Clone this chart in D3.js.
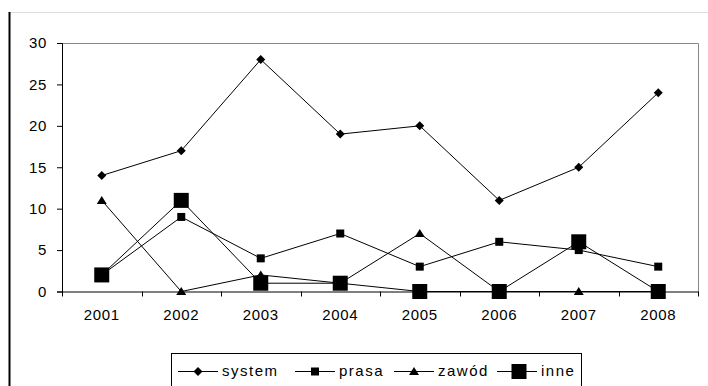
<!DOCTYPE html>
<html>
<head>
<meta charset="utf-8">
<script src="https://cdn.jsdelivr.net/npm/d3@7"></script>
<style>
  body { margin: 0; background: #fff; }
  text { font-family: "Liberation Sans", Arial, sans-serif; fill: #000; }
</style>
</head>
<body>
<div class="canvas"></div>
<script>
const years = ["2001", "2002", "2003", "2004", "2005", "2006", "2007", "2008"]
const system = [14, 17, 28, 19, 20, 11, 15, 24]
const prasa = [2, 9, 4, 7, 3, 6, 5, 3]
const zawod = [11, 0, 2, 1, 7, 0, 0, 0]
const inne = [2, 11, 1, 1, 0, 0, 6, 0]
const yTicks = [0, 5, 10, 15, 20, 25, 30]

const series = [
    { name: "system", values: system, shape: "diamond", size: 9 },
    { name: "prasa", values: prasa, shape: "square", size: 8 },
    { name: "zawód", values: zawod, shape: "triangle", size: 9 },
    { name: "inne", values: inne, shape: "square", size: 15 }
]

const svg = d3.select(".canvas")
    .append("svg")
    .attr("width", 708)
    .attr("height", 386)

// outer frame bits
svg.append("line")
    .attr("x1", 9).attr("x2", 708).attr("y1", 12.5).attr("y2", 12.5)
    .attr("stroke", "#ddd")
svg.append("line")
    .attr("x1", 9.5).attr("x2", 9.5).attr("y1", 12).attr("y2", 386)
    .attr("stroke", "#000").attr("stroke-width", 2)

const margin = { top: 43, left: 62, right: 698, bottom: 291.5 }

const x = d3.scaleBand()
    .domain(years)
    .range([margin.left, margin.right])

const y = d3.scaleLinear()
    .domain([0, 30])
    .range([margin.bottom, margin.top])

// plot border (top + right, gray)
svg.append("path")
    .attr("d", `M${margin.left},${margin.top + 0.5}H${margin.right + 0.5}V${margin.bottom}`)
    .attr("fill", "none")
    .attr("stroke", "#888")

const xAxisGroup = svg.append("g")
    .attr("transform", `translate(0, ${margin.bottom})`)
const yAxisGroup = svg.append("g")
    .attr("transform", `translate(${margin.left}, 0)`)

yAxisGroup.call(d3.axisLeft(y).tickValues(yTicks).tickSize(5).tickPadding(10))
xAxisGroup.call(d3.axisBottom(x).tickSize(0).tickPadding(18))

// band boundary ticks on x axis
svg.selectAll(".xtick")
    .data(years.concat(["end"]))
    .enter()
    .append("line")
    .attr("x1", (d, i) => Math.round(margin.left + i * x.step()) + 0.5)
    .attr("x2", (d, i) => Math.round(margin.left + i * x.step()) + 0.5)
    .attr("y1", margin.bottom)
    .attr("y2", margin.bottom + 5)
    .attr("stroke", "#000")

svg.selectAll(".domain").attr("stroke", "#000")
svg.selectAll(".tick line").attr("stroke", "#000")
svg.selectAll(".tick text")
    .style("font-size", "15px")
    .style("letter-spacing", "0.6px")
    .attr("fill", "#000")

const cx = d => x(d) + x.bandwidth() / 2

function marker(sel, shape, size) {
    if (shape === "square") {
        sel.append("rect")
            .attr("x", -size / 2).attr("y", -size / 2)
            .attr("width", size).attr("height", size)
            .attr("fill", "#000")
    } else if (shape === "diamond") {
        const h = size / 2
        sel.append("path")
            .attr("d", `M0,${-h}L${h},0L0,${h}L${-h},0Z`)
            .attr("fill", "#000")
    } else {
        const h = size / 2
        sel.append("path")
            .attr("d", `M0,${-h}L${h + 0.5},${h - 1}L${-h - 0.5},${h - 1}Z`)
            .attr("fill", "#000")
    }
}

const line = d3.line()
    .x((d, i) => cx(years[i]))
    .y(d => y(d))

series.forEach(s => {
    svg.append("path")
        .datum(s.values)
        .attr("d", line)
        .attr("fill", "none")
        .attr("stroke", "#000")
        .attr("stroke-width", 1)
})

series.forEach(s => {
    s.values.forEach((v, i) => {
        const g = svg.append("g")
            .attr("transform", `translate(${cx(years[i])}, ${y(v)})`)
        marker(g, s.shape, s.size)
    })
})

// legend
const legend = svg.append("g")
legend.append("rect")
    .attr("x", 171.5).attr("y", 353.5)
    .attr("width", 410).attr("height", 40)
    .attr("fill", "#fff").attr("stroke", "#000")

const legendX = [178, 295, 394, 497]
series.forEach((s, i) => {
    const g = legend.append("g").attr("transform", `translate(${legendX[i]}, 371.5)`)
    g.append("line")
        .attr("x1", 0).attr("x2", 40)
        .attr("stroke", "#000")
    const m = g.append("g").attr("transform", `translate(${i === 3 ? 22 : 20}, 0)`)
    marker(m, s.shape, s.size)
    g.append("text")
        .attr("x", 44)
        .attr("y", 4)
        .style("font-size", "15px")
        .style("letter-spacing", "1.5px")
        .text(s.name)
})
</script>
</body>
</html>
